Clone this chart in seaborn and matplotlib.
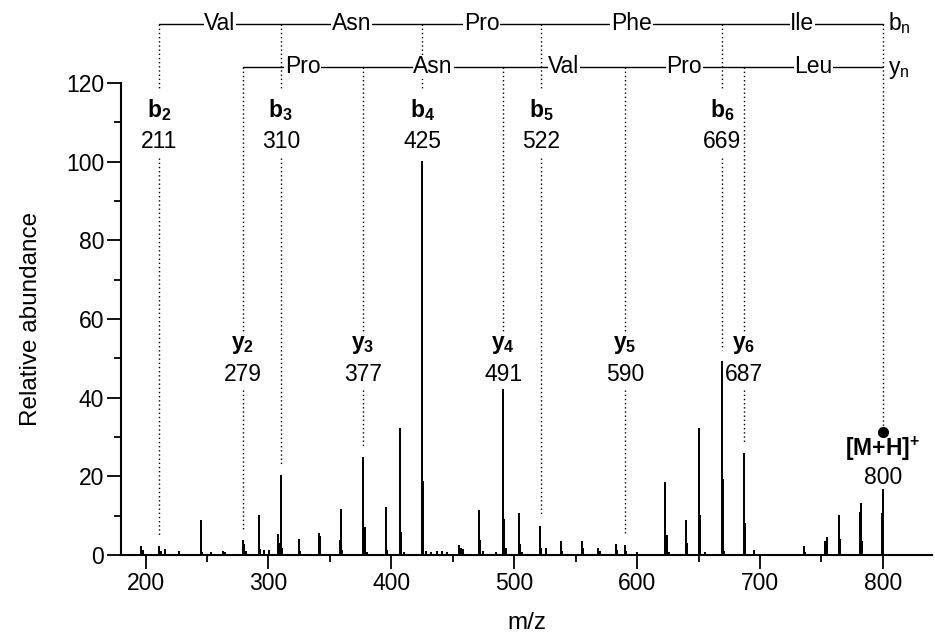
import pandas as pd
import seaborn as sns
import matplotlib.pyplot as plt
from matplotlib.ticker import MultipleLocator

# Peak list (m/z, relative abundance)
peak_mz = [196.5, 197.8, 211, 212.5, 215.5, 227.5, 245, 246, 253, 263, 265,
           279, 280.5, 282, 292, 293, 296, 300.5, 308, 309.5, 310, 311,
           325, 326, 341.5, 342.3, 358.2, 359, 360, 377, 378.5, 380,
           395.5, 396.5, 407, 407.8, 410, 425, 425.8, 428, 432, 437, 441, 445,
           455.3, 456.5, 458, 471.5, 472.5, 475, 485, 491, 491.8, 493,
           503.6, 504.5, 506, 521, 522, 526, 537.7, 539, 554.8, 555.8,
           568, 570, 582.5, 584, 590, 591, 600, 623, 624, 626,
           639.7, 640.7, 650.5, 651.6, 655, 669, 669.7, 671, 687, 687.8, 695,
           736, 737, 753, 754.2, 764.3, 765, 781.5, 782.5, 783.3, 799.2, 800]
peak_int = [2.1, 0.9, 2.0, 0.8, 1.2, 0.8, 8.7, 0.6, 0.4, 0.8, 0.5,
            3.5, 2.5, 0.8, 9.8, 1.3, 0.9, 1.0, 5.1, 2.8, 20.2, 1.5,
            3.8, 0.8, 5.3, 4.6, 3.6, 11.5, 1.0, 24.7, 6.9, 0.6,
            11.9, 0.9, 32.1, 5.6, 0.5, 100, 18.5, 0.8, 0.6, 0.7, 0.8, 0.6,
            2.4, 1.5, 1.2, 11.3, 3.6, 0.8, 0.4, 42, 9.0, 1.5,
            10.4, 2.5, 0.5, 7.2, 1.5, 1.5, 3.2, 0.8, 3.4, 1.5,
            1.5, 0.8, 2.5, 1.0, 2.4, 0.8, 0.5, 18.3, 4.9, 0.5,
            8.7, 2.8, 32.1, 9.8, 0.5, 49, 19, 0.8, 25.7, 7.9, 0.9,
            2.0, 0.6, 3.4, 4.3, 10.0, 3.8, 10.8, 13.0, 3.2, 10.4, 16.6]

b_ions = [211, 310, 425, 522, 669]
b_index = ["2", "3", "4", "5", "6"]
y_ions = [279, 377, 491, 590, 687]
y_index = ["2", "3", "4", "5", "6"]
b_residues = ["Val", "Asn", "Pro", "Phe", "Ile"]
y_residues = ["Pro", "Asn", "Val", "Pro", "Leu"]
precursor_mz = 800

sns.set_style("ticks")
plt.rcParams["font.family"] = ["Liberation Sans", "DejaVu Sans"]
plt.rcParams["mathtext.fontset"] = "custom"
plt.rcParams["mathtext.rm"] = "Liberation Sans"
plt.rcParams["mathtext.bf"] = "Liberation Sans:bold"
plt.rcParams["mathtext.it"] = "Liberation Sans:italic"
plt.rcParams["text.color"] = "black"
plt.rcParams["axes.labelcolor"] = "black"

FS = 16.5

# stick spectrum as one up-and-down path
path_x, path_y = [], []
for mz, h in zip(peak_mz, peak_int):
    path_x += [mz, mz, mz]
    path_y += [0, h, 0]
spec = pd.DataFrame({"mz": path_x, "abundance": path_y})

fig = plt.figure(figsize=(9.35, 6.35), dpi=100)
ax = fig.add_axes([121 / 935, 80 / 635, 811 / 935, 472 / 635])
sns.lineplot(data=spec, x="mz", y="abundance", sort=False, estimator=None,
             color="black", lw=1.2, ax=ax)

ax.set_xlim(180, 840)
ax.set_ylim(0, 120)
ax.xaxis.set_major_locator(MultipleLocator(100))
ax.xaxis.set_minor_locator(MultipleLocator(50))
ax.yaxis.set_major_locator(MultipleLocator(20))
ax.yaxis.set_minor_locator(MultipleLocator(10))
ax.tick_params(which="major", length=10, width=1.3, labelsize=FS, pad=2,
               colors="black")
ax.tick_params(which="minor", length=5, width=1.3, colors="black")
sns.despine(ax=ax)
for s in ["left", "bottom"]:
    ax.spines[s].set_linewidth(1.5)
    ax.spines[s].set_color("black")
ax.set_xlabel("m/z", fontsize=17.5)
ax.set_ylabel("Relative abundance", fontsize=17.5)
ax.xaxis.set_label_coords(0.5, -0.12)
ax.yaxis.set_label_coords(-0.097, 0.5)


def height_at(mz):
    return max(h for m, h in zip(peak_mz, peak_int) if abs(m - mz) <= 1.5)


dot = dict(color="black", lw=1.0, ls=(0, (1, 2)), clip_on=False, zorder=1)
row_b, row_y = 135.0, 124.1
gap = 3

# ladder rows
for row, ions, names in [(row_b, b_ions, b_residues), (row_y, y_ions, y_residues)]:
    stops = ions + [precursor_mz]
    ax.plot([stops[0], stops[-1]], [row, row], color="black", lw=1.0,
            clip_on=False, zorder=1)
    for a, b, name in zip(stops[:-1], stops[1:], names):
        ax.text((a + b) / 2, row, name, ha="center", va="center", fontsize=FS,
                zorder=3, bbox=dict(fc="white", ec="none", pad=0.5))
ax.text(804, row_b + 0.3, r"$\mathrm{b_n}$", ha="left", va="center", fontsize=FS)
ax.text(804, row_y - 0.6, r"$\mathrm{y_n}$", ha="left", va="center", fontsize=FS)

# b ions
for mz, idx in zip(b_ions, b_index):
    ax.plot([mz, mz], [row_b, 118.3], **dot)
    top = height_at(mz) + gap
    if top < 101:
        ax.plot([mz, mz], [101, top], **dot)
    ax.text(mz, 113.2, r"$\mathbf{b_{%s}}$" % idx, ha="center", va="center",
            fontsize=FS)
    ax.text(mz, 105.1, str(mz), ha="center", va="center", fontsize=FS)

# y ions
for mz, idx in zip(y_ions, y_index):
    ax.plot([mz, mz], [row_y, 57], **dot)
    top = height_at(mz) + gap
    if top < 42:
        ax.plot([mz, mz], [42, top], **dot)
    ax.text(mz, 53.4, r"$\mathbf{y_{%s}}$" % idx, ha="center", va="center",
            fontsize=FS)
    ax.text(mz, 45.8, str(mz), ha="center", va="center", fontsize=FS)

# precursor
ax.plot([precursor_mz, precursor_mz], [row_b, 31.3], **dot)
ax.plot([precursor_mz], [31.3], "o", color="black", ms=7, clip_on=False)
ax.text(precursor_mz, 27.0, r"$\mathbf{[M{+}H]^{+}}$", ha="center", va="center",
        fontsize=FS)
ax.text(precursor_mz, 19.8, str(precursor_mz), ha="center", va="center",
        fontsize=FS)

fig.savefig("out.png", dpi=100)
